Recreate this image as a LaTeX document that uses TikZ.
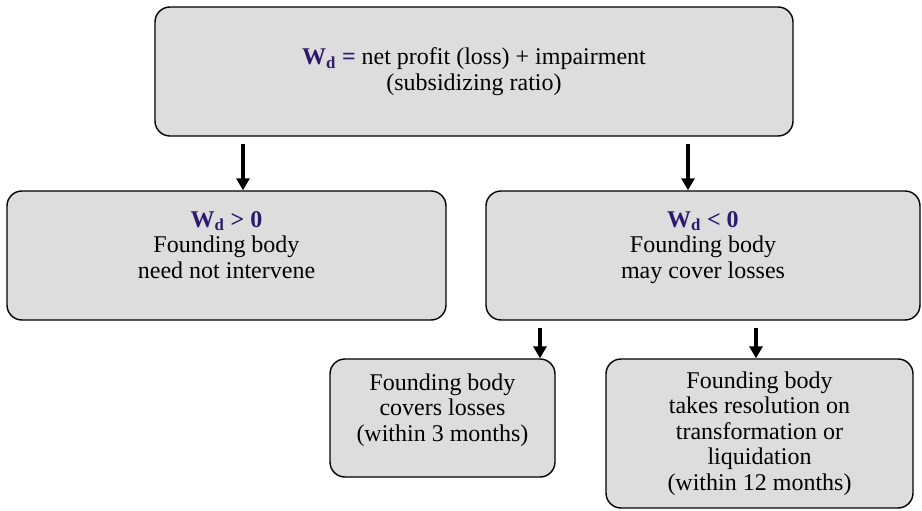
\documentclass[tikz,border=0pt]{standalone}
\usepackage{fontspec}
\setmainfont{Liberation Serif}
\usepackage{tikz}
\usetikzlibrary{arrows.meta,positioning}
\definecolor{wdblue}{RGB}{43,27,110}
\definecolor{boxgray}{RGB}{221,221,221}
\newcommand{\Wd}[1]{\textcolor{wdblue}{\textbf{W\textsubscript{d}#1}}}
\tikzset{x=1pt,y=-1pt,
  box/.style={draw=black,line width=1.4pt,fill=boxgray,rounded corners=15pt,align=center,inner sep=0pt},
  arr/.style={line width=3.6pt,-{Triangle[width=13pt,length=12pt]}}}
\begin{document}
\begin{tikzpicture}
    \fontsize{24}{25.5}\selectfont
    \useasboundingbox (0,0) rectangle (922,511);
    \node[box,minimum width=638pt,minimum height=129pt] (top) at (474,71.5)
        {\Wd{ =} net profit (loss) + impairment\\(subsidizing ratio)};
    \node[box,minimum width=439pt,minimum height=129pt] (pos) at (226.5,255.5)
        {\Wd{ > 0}\\Founding body\\need not intervene\\[-4pt]~};
    \node[box,minimum width=434pt,minimum height=129pt] (neg) at (703,255.5)
        {\Wd{ < 0}\\Founding body\\may cover losses\\[-4pt]~};
    \node[box,minimum width=225pt,minimum height=118pt] (cover) at (442.5,418)
        {Founding body\\covers losses\\(within 3 months)\\[-4pt]~};
    \node[box,minimum width=307pt,minimum height=149pt] (resol) at (759.5,433.5)
        {Founding body\\takes resolution on\\transformation or\\liquidation\\(within 12 months)};
    \draw[arr] ([xshift=16.5pt,yshift=-7pt]pos.north |- top.south) -- ([xshift=16.5pt]pos.north);
    \draw[arr] ([xshift=-15pt,yshift=-7pt]neg.north |- top.south) -- ([xshift=-15pt]neg.north);
    \draw[arr] ([xshift=97.5pt,yshift=-7pt]cover.north |- neg.south) -- ([xshift=97.5pt]cover.north);
    \draw[arr] ([xshift=-3.5pt,yshift=-7pt]resol.north |- neg.south) -- ([xshift=-3.5pt]resol.north);
\end{tikzpicture}
\end{document}
